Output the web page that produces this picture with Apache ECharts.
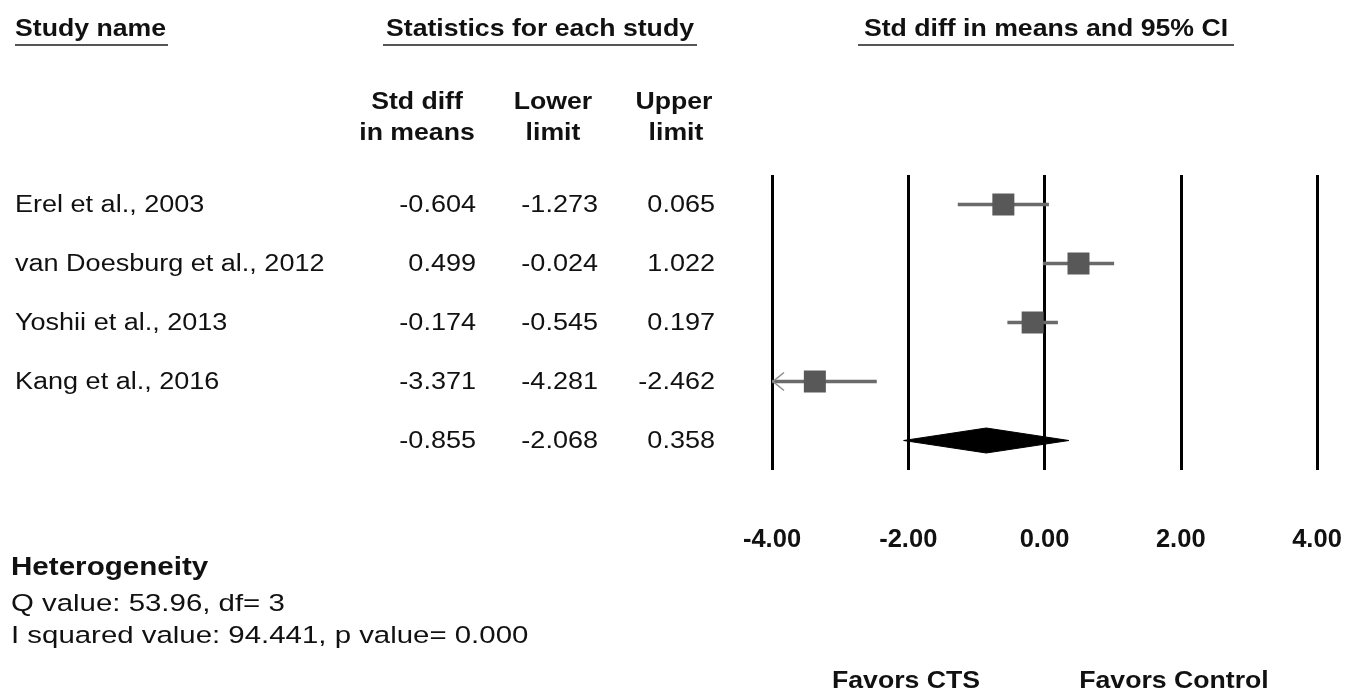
<!DOCTYPE html>
<html><head><meta charset="utf-8">
<script src="https://cdn.jsdelivr.net/npm/echarts@6/dist/echarts.min.js"></script>
<style>html,body{margin:0;padding:0;background:#fff}#c{width:1357px;height:691px}</style>
</head><body><div id="c"></div>
<script>
// ---- data ----
const studies = ['Erel et al., 2003', 'van Doesburg et al., 2012', 'Yoshii et al., 2013', 'Kang et al., 2016'];
const stdDiff = [-0.604, 0.499, -0.174, -3.371];
const lowerLimit = [-1.273, -0.024, -0.545, -4.281];
const upperLimit = [0.065, 1.022, 0.197, -2.462];
const summaryStats = [-0.855, -2.068, 0.358]; // std diff, lower, upper
const xTickValues = [-4, -2, 0, 2, 4];
const heterogeneityLines = ['Q value: 53.96, df= 3', 'I squared value: 94.441, p value= 0.000'];
const favorsLabels = ['Favors CTS', 'Favors Control'];

const FONT = 'Liberation Sans, Arial, sans-serif';
const AX_MIN = xTickValues[0], AX_MAX = xTickValues[xTickValues.length - 1];
const nRows = studies.length + 1;

const chart = echarts.init(document.getElementById('c'), null, {renderer: 'canvas'});

const ciData = studies.map((s, i) => [lowerLimit[i], upperLimit[i], i + 1]);
const pointData = studies.map((s, i) => [stdDiff[i], i + 1]);
const diamondData = [[summaryStats[1], summaryStats[0], summaryStats[2], nRows]];

chart.setOption({
  animation: false,
  backgroundColor: '#fff',
  grid: {left: 772, right: 40, top: 175, bottom: 221},
  xAxis: {
    type: 'value', min: AX_MIN, max: AX_MAX, interval: 2,
    axisLine: {show: false}, axisTick: {show: false},
    splitLine: {show: true, lineStyle: {color: '#000', width: 3}},
    axisLabel: {
      formatter: v => v.toFixed(2), fontFamily: FONT, fontWeight: 'bold',
      fontSize: 25.5, color: '#111', margin: 57
    }
  },
  yAxis: {type: 'value', min: 0.5, max: nRows + 0.5, inverse: true, show: false},
  series: [
    {
      type: 'custom', name: 'ci', data: ciData, encode: {x: [0, 1], y: 2}, z: 3,
      renderItem: function (params, api) {
        const lo = api.value(0), hi = api.value(1), row = api.value(2);
        const p1 = api.coord([Math.max(lo, AX_MIN), row]);
        const p2 = api.coord([Math.min(hi, AX_MAX), row]);
        const children = [{
          type: 'line', shape: {x1: p1[0], y1: p1[1], x2: p2[0], y2: p2[1]},
          style: {stroke: '#6a6a6a', lineWidth: 3.5}
        }];
        if (lo < AX_MIN) {
          children.push({
            type: 'polyline',
            shape: {points: [[p1[0] + 12, p1[1] - 9], [p1[0] + 1, p1[1]], [p1[0] + 12, p1[1] + 9]]},
            style: {stroke: '#8c8c8c', lineWidth: 1.5, fill: null}
          });
        }
        return {type: 'group', children};
      }
    },
    {
      type: 'scatter', name: 'point', data: pointData, symbol: 'rect', symbolSize: 22, z: 4,
      itemStyle: {color: '#585858', opacity: 1}
    },
    {
      type: 'custom', name: 'summary', data: diamondData, encode: {x: [0, 1, 2], y: 3}, z: 4,
      renderItem: function (params, api) {
        const row = api.value(3);
        const l = api.coord([api.value(0), row]);
        const m = api.coord([api.value(1), row]);
        const r = api.coord([api.value(2), row]);
        const h = 12.5;
        return {
          type: 'polygon',
          shape: {points: [[l[0], l[1]], [m[0], m[1] - h], [r[0], r[1]], [m[0], m[1] + h]]},
          style: {fill: '#000', stroke: '#000', lineWidth: 1}
        };
      }
    }
  ]
});

function rowY(row) { return chart.convertToPixel({gridIndex: 0}, [0, row])[1]; }
function txt(x, y, text, o) {
  o = o || {};
  return {
    type: 'text', x: x, y: y, scaleX: o.sx || 1, z: 10,
    style: {
      text: text, fill: o.color || '#111', fontFamily: FONT,
      fontSize: o.size || 23, fontWeight: o.bold ? 'bold' : 'normal',
      align: o.align || 'left', textAlign: o.align || 'left',
      verticalAlign: 'middle', textVerticalAlign: 'middle'
    }
  };
}
function hline(x1, x2, y) {
  return {type: 'line', z: 10, shape: {x1: x1, y1: y, x2: x2, y2: y}, style: {stroke: '#555', lineWidth: 2}};
}

const H = {bold: true, size: 24, sx: 1.11};
const R = {size: 23.5, sx: 1.15};
const C = o => Object.assign({align: 'center'}, o);
const RA = o => Object.assign({align: 'right'}, o);
const g = [];
// headers
g.push(txt(15, 29, 'Study name', H));
g.push(txt(540, 29, 'Statistics for each study', C(H)));
g.push(txt(1046, 29, 'Std diff in means and 95% CI', C(H)));
g.push(hline(15, 168, 45), hline(383, 697, 45), hline(858, 1234, 45));
// sub headers
g.push(txt(417, 102, 'Std diff', C(H)));
g.push(txt(417, 133, 'in means', C(H)));
g.push(txt(553, 102, 'Lower', C(H)));
g.push(txt(553, 133, 'limit', C(H)));
g.push(txt(674, 102, 'Upper', C(H)));
g.push(txt(676, 133, 'limit', C(H)));
// rows
const colX = [476, 598, 715];
const fmt = v => v.toFixed(3);
studies.forEach((s, i) => {
  const y = rowY(i + 1) + 1;
  g.push(txt(15, y, s, R));
  g.push(txt(colX[0], y, fmt(stdDiff[i]), RA(R)));
  g.push(txt(colX[1], y, fmt(lowerLimit[i]), RA(R)));
  g.push(txt(colX[2], y, fmt(upperLimit[i]), RA(R)));
});
const ys = rowY(nRows) + 1;
summaryStats.forEach((v, k) => g.push(txt(colX[k], ys, fmt(v), RA(R))));
// heterogeneity
g.push(txt(11, 568, 'Heterogeneity', {bold: true, size: 25.5, sx: 1.16}));
g.push(txt(11, 604, heterogeneityLines[0], {size: 24.5, sx: 1.2}));
g.push(txt(11, 636, heterogeneityLines[1], {size: 24.5, sx: 1.2}));
// favors
g.push(txt(906, 681, favorsLabels[0], C(H)));
g.push(txt(1174, 681, favorsLabels[1], C(H)));

chart.setOption({graphic: {elements: g}});
</script>
</body></html>
